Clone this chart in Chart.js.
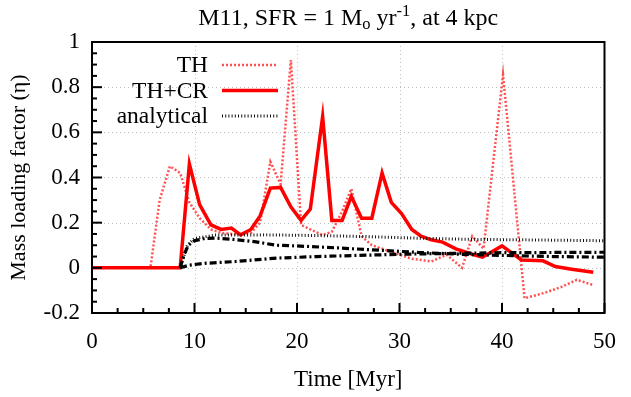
<!DOCTYPE html>
<html><head><meta charset="utf-8">
<script src="https://cdn.jsdelivr.net/npm/chart.js@4/dist/chart.umd.min.js"></script>
<style>html,body{margin:0;padding:0;background:#fff}#wrap{width:631px;height:397px;position:relative}</style>
</head><body><div id="wrap"><canvas id="c" width="631" height="397"></canvas></div>
<script>
// ---- data ----
const thTime = [0, 5.7, 6.6, 7.6, 8.6, 9.5, 10.5, 11.6, 12.6, 13.6, 14.5, 15.5, 16.4, 17.4, 18.4, 19.4, 20.4, 21.3, 22.5, 23.4, 24.4, 25.3, 26.3, 27.3, 28.3, 29.2, 30.2, 31.2, 32.1, 33.1, 34.6, 36.1, 37.1, 38.2, 40.1, 42.2, 44.2, 45.9, 47.3, 48.8];
const thEta  = [0, 0, 0.30, 0.45, 0.42, 0.29, 0.22, 0.17, 0.155, 0.15, 0.15, 0.155, 0.20, 0.47, 0.37, 0.92, 0.19, 0.17, 0.145, 0.16, 0.25, 0.35, 0.14, 0.10, 0.085, 0.07, 0.055, 0.04, 0.035, 0.028, 0.058, 0.0, 0.14, 0.085, 0.855, -0.135, -0.11, -0.083, -0.053, -0.075];

const crTime = [0, 8.6, 9.5, 10.5, 11.6, 12.6, 13.6, 14.5, 15.5, 16.4, 17.4, 18.4, 19.4, 20.4, 21.3, 22.5, 23.4, 24.4, 25.3, 26.3, 27.3, 28.3, 29.2, 30.2, 31.2, 32.1, 33.1, 34.2, 35.5, 37.1, 38.1, 40.0, 41.9, 44.0, 45.2, 46.8, 48.9];
const crEta  = [0, 0, 0.46, 0.28, 0.19, 0.17, 0.176, 0.146, 0.17, 0.23, 0.353, 0.356, 0.27, 0.21, 0.26, 0.67, 0.21, 0.21, 0.316, 0.22, 0.22, 0.42, 0.29, 0.24, 0.17, 0.14, 0.124, 0.114, 0.084, 0.06, 0.047, 0.097, 0.035, 0.031, 0.006, -0.006, -0.02];

const anTime = [8.6, 9.3, 10, 12, 17, 22, 27, 32, 37, 42, 50];
const anEta  = [0, 0.10, 0.13, 0.145, 0.146, 0.143, 0.138, 0.131, 0.126, 0.124, 0.12];

const an2Time = [8.6, 9.0, 9.4, 10, 11, 12, 14, 16, 18, 20, 24, 28, 32, 36, 40, 45, 50];
const an2Eta  = [0, 0.06, 0.10, 0.12, 0.13, 0.132, 0.125, 0.115, 0.10, 0.097, 0.088, 0.078, 0.068, 0.06, 0.055, 0.05, 0.047];

const an3Time = [8.6, 9.5, 11, 14, 18, 22, 26, 30, 35, 40, 45, 50];
const an3Eta  = [0, 0.012, 0.02, 0.028, 0.043, 0.05, 0.055, 0.06, 0.064, 0.067, 0.068, 0.069];

const seriesLabels = ['TH', 'TH+CR', 'analytical'];
const xTickValues = [0, 10, 20, 30, 40, 50];
const yTickValues = [-0.2, 0, 0.2, 0.4, 0.6, 0.8, 1];
const xLabel = 'Time [Myr]';
const yLabel = 'Mass loading factor (\u03b7)';
const titleParts = [['M11, SFR = 1 M', 0], ['o', 1], [' yr', 0], ['-1', 2], [', at 4 kpc', 0]];

// ---- helpers ----
const FONT = "'Liberation Serif', 'Times New Roman', serif";
const pts = (t, v) => t.map((x, i) => ({x: x, y: v[i]}));

const deco = {
  id: 'deco',
  beforeDatasetsDraw(chart) {
    const {ctx, chartArea: a, scales: {x, y}} = chart;
    ctx.save();
    ctx.strokeStyle = '#bdbdbd'; ctx.lineWidth = 1; ctx.setLineDash([1, 3]);
    xTickValues.forEach(v => {
      if (v === x.min || v === x.max) return;
      const px = Math.round(x.getPixelForValue(v)) + 0.5;
      ctx.beginPath(); ctx.moveTo(px, a.top); ctx.lineTo(px, a.bottom); ctx.stroke();
    });
    yTickValues.forEach(v => {
      if (v === y.min || v === y.max) return;
      const py = Math.round(y.getPixelForValue(v)) + 0.5;
      ctx.beginPath(); ctx.moveTo(a.left, py); ctx.lineTo(a.right, py); ctx.stroke();
    });
    ctx.restore();
  },
  afterDatasetsDraw(chart) {
    const {ctx, chartArea: a, scales: {x, y}} = chart;
    ctx.save();
    ctx.setLineDash([]);
    ctx.strokeStyle = '#000'; ctx.lineWidth = 2;
    // inward ticks
    for (let v = x.min; v <= x.max + 1e-9; v += 2.5) {
      const major = Math.abs(v / 10 - Math.round(v / 10)) < 1e-6;
      const px = x.getPixelForValue(v);
      ctx.beginPath(); ctx.moveTo(px, a.bottom); ctx.lineTo(px, a.bottom - (major ? 10 : 5)); ctx.stroke();
    }
    for (let k = 0; k <= 24; k++) {
      const v = -0.2 + k * 0.05;
      const major = k % 4 === 0;
      const py = y.getPixelForValue(v);
      ctx.beginPath(); ctx.moveTo(a.left, py); ctx.lineTo(a.left + (major ? 10 : 5), py); ctx.stroke();
    }
    ctx.strokeRect(a.left, a.top, a.right - a.left, a.bottom - a.top);

    // legend (right-aligned text, sample to the right)
    ctx.font = '23.5px ' + FONT; ctx.fillStyle = '#000';
    ctx.textAlign = 'right'; ctx.textBaseline = 'middle';
    const rows = [65, 90.5, 116];
    chart.data.datasets.forEach((ds, i) => {
      if (i > 2) return;
      const yy = rows[i];
      ctx.fillText(ds.label, 208, yy + 1);
      ctx.strokeStyle = ds.borderColor; ctx.lineWidth = ds.borderWidth;
      ctx.setLineDash(ds.borderDash || []);
      ctx.beginPath(); ctx.moveTo(222, yy); ctx.lineTo(278, yy); ctx.stroke();
    });
    ctx.setLineDash([]);

    // title with sub/superscript
    const big = '24px ' + FONT, small = '16.5px ' + FONT;
    let total = 0;
    titleParts.forEach(([s, k]) => { ctx.font = k ? small : big; total += ctx.measureText(s).width; });
    let cx = (a.left + a.right) / 2 - total / 2;
    const base = 25;
    ctx.textAlign = 'left'; ctx.textBaseline = 'alphabetic'; ctx.fillStyle = '#000';
    titleParts.forEach(([s, k]) => {
      ctx.font = k ? small : big;
      const dy = k === 1 ? 4 : (k === 2 ? -9 : 0);
      ctx.fillText(s, cx, base + dy);
      cx += ctx.measureText(s).width;
    });
    ctx.restore();
  }
};

new Chart(document.getElementById('c'), {
  type: 'scatter',
  data: {
    datasets: [
      {label: seriesLabels[0], data: pts(thTime, thEta), showLine: true, borderColor: 'rgba(255,50,50,0.85)', borderWidth: 2.5, borderDash: [2, 2], pointRadius: 0, order: 4},
      {label: seriesLabels[1], data: pts(crTime, crEta), showLine: true, borderColor: '#ff0000', borderWidth: 3.5, pointRadius: 0, order: 3},
      {label: seriesLabels[2], data: pts(anTime, anEta), showLine: true, borderColor: '#111', borderWidth: 3, borderDash: [1, 2.2], pointRadius: 0, order: 2},
      {label: '', data: pts(an2Time, an2Eta), showLine: true, borderColor: '#000', borderWidth: 3.2, borderDash: [7, 3, 2, 3], pointRadius: 0, order: 1},
      {label: '', data: pts(an3Time, an3Eta), showLine: true, borderColor: '#000', borderWidth: 3.2, borderDash: [7, 3, 2, 3], pointRadius: 0, order: 1}
    ]
  },
  options: {
    responsive: false, animation: false, devicePixelRatio: 1,
    layout: {padding: {top: 42, right: 18, left: 0, bottom: 0}},
    plugins: {legend: {display: false}, tooltip: {enabled: false}, title: {display: false}},
    scales: {
      x: {
        type: 'linear', min: 0, max: 50,
        afterFit(s) { s.height = 84; },
        afterBuildTicks(s) { s.ticks = xTickValues.map(v => ({value: v})); },
        grid: {display: false, drawTicks: false}, border: {display: false},
        ticks: {color: '#000', font: {family: FONT, size: 23}, padding: 15, maxRotation: 0, autoSkip: false},
        title: {display: true, text: xLabel, color: '#000', font: {family: FONT, size: 23}, padding: {top: 0, bottom: 3}}
      },
      y: {
        type: 'linear', min: -0.2, max: 1,
        afterFit(s) { s.width = 92; },
        afterBuildTicks(s) { s.ticks = yTickValues.map(v => ({value: v})); },
        grid: {display: false, drawTicks: false}, border: {display: false},
        ticks: {color: '#000', font: {family: FONT, size: 23}, padding: 12, autoSkip: false,
          callback: v => String(Math.round(v * 10) / 10)},
        title: {display: true, text: yLabel, color: '#000', font: {family: FONT, size: 22}, padding: {top: 6, bottom: 0}}
      }
    }
  },
  plugins: [deco]
});
</script></body></html>
